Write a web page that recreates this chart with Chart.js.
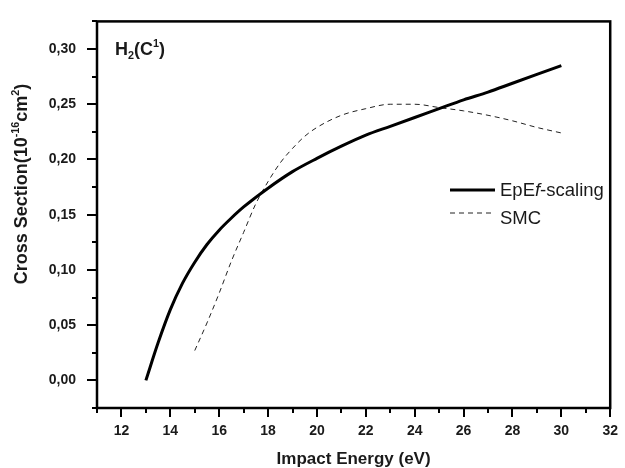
<!DOCTYPE html>
<html>
<head>
<meta charset="utf-8">
<script src="https://cdn.jsdelivr.net/npm/chart.js@4"></script>
<style>
  body { margin: 0; background: #fff; }
</style>
</head>
<body>
<canvas id="myChart" width="625" height="468"></canvas>
<script>
const energyEpEf = [13, 13.5, 14, 14.5, 15, 15.5, 16, 16.5, 17, 18, 19, 20, 21, 22, 23, 24, 25, 26, 27, 28, 29, 30];
const sigmaEpEf = [0, 0.034, 0.064, 0.088, 0.107, 0.123, 0.136, 0.147, 0.157, 0.174, 0.189, 0.201, 0.212, 0.222, 0.230, 0.238, 0.246, 0.254, 0.261, 0.269, 0.277, 0.285];
const energySMC = [15, 15.5, 16, 16.5, 17, 17.5, 18, 18.5, 19, 19.5, 20, 21, 22, 23, 24, 25, 26, 27, 28, 29, 30];
const sigmaSMC = [0.027, 0.052, 0.079, 0.108, 0.134, 0.160, 0.180, 0.197, 0.210, 0.221, 0.229, 0.240, 0.246, 0.250, 0.250, 0.247, 0.244, 0.240, 0.235, 0.229, 0.224];
const xTicks = [12, 14, 16, 18, 20, 22, 24, 26, 28, 30, 32];
const yTicks = [0, 0.05, 0.10, 0.15, 0.20, 0.25, 0.30];

const ink = '#1a1a1a';
const FONT = '"Liberation Sans", Arial, sans-serif';

function pts(xs, ys) {
  return xs.map((x, i) => ({ x: x, y: ys[i] }));
}

// draws text pieces in a row, sup/sub pieces smaller and shifted
function drawRich(ctx, pieces, x, y, size) {
  let cx = x;
  pieces.forEach(p => {
    let s = size, dy = 0;
    if (p.sup) { s = size * 0.6; dy = -size * 0.42; }
    if (p.sub) { s = size * 0.6; dy = size * 0.2; }
    ctx.font = (p.style || 'bold') + ' ' + s + 'px ' + FONT;
    ctx.fillText(p.t, cx, y + dy);
    cx += ctx.measureText(p.t).width;
  });
  return cx - x;
}
function richWidth(ctx, pieces, size) {
  let w = 0;
  pieces.forEach(p => {
    const s = (p.sup || p.sub) ? size * 0.6 : size;
    ctx.font = (p.style || 'bold') + ' ' + s + 'px ' + FONT;
    w += ctx.measureText(p.t).width;
  });
  return w;
}

const decor = {
  id: 'decor',
  afterDraw(chart) {
    const ctx = chart.ctx;
    const a = chart.chartArea;
    const xs = chart.scales.x, ys = chart.scales.y;
    ctx.save();
    ctx.strokeStyle = '#000';
    ctx.fillStyle = ink;

    // frame
    ctx.lineWidth = 2.5;
    ctx.strokeRect(a.left, a.top, a.right - a.left, a.bottom - a.top);

    // tick marks
    ctx.lineWidth = 2;
    ctx.beginPath();
    for (let v = xs.min; v <= xs.max + 0.001; v += 1) {
      const px = Math.round(xs.getPixelForValue(v));
      const len = xTicks.includes(v) ? 9 : 5;
      ctx.moveTo(px, a.bottom);
      ctx.lineTo(px, a.bottom + len);
    }
    for (let v = ys.min; v <= ys.max + 0.0001; v += 0.025) {
      const py = Math.round(ys.getPixelForValue(v));
      const major = yTicks.some(t => Math.abs(t - v) < 0.001);
      ctx.moveTo(a.left, py);
      ctx.lineTo(a.left - (major ? 10 : 5), py);
    }
    ctx.stroke();

    // x title
    ctx.textAlign = 'center';
    ctx.textBaseline = 'alphabetic';
    ctx.font = 'bold 17px ' + FONT;
    ctx.fillText('Impact Energy (eV)', (a.left + a.right) / 2, 464);

    // y title
    ctx.textAlign = 'left';
    const yPieces = [
      { t: 'Cross Section(10' }, { t: '-16', sup: true },
      { t: 'cm' }, { t: '2', sup: true }, { t: ')' }
    ];
    const w = richWidth(ctx, yPieces, 18);
    ctx.translate(27, 184);
    ctx.rotate(-Math.PI / 2);
    drawRich(ctx, yPieces, -w / 2, 0, 18);
    ctx.setTransform(1, 0, 0, 1, 0, 0);

    // H2(C1) label
    drawRich(ctx, [
      { t: 'H' }, { t: '2', sub: true }, { t: '(C' }, { t: '1', sup: true }, { t: ')' }
    ], 115, 55, 18);

    // legend
    const ds = chart.data.datasets;
    ctx.strokeStyle = ds[0].borderColor;
    ctx.lineWidth = ds[0].borderWidth;
    ctx.beginPath(); ctx.moveTo(450, 190); ctx.lineTo(495, 190); ctx.stroke();
    ctx.strokeStyle = ds[1].borderColor;
    ctx.lineWidth = ds[1].borderWidth;
    ctx.setLineDash(ds[1].borderDash);
    ctx.beginPath(); ctx.moveTo(450, 213); ctx.lineTo(495, 213); ctx.stroke();
    ctx.setLineDash([]);
    drawRich(ctx, [
      { t: 'EpE', style: 'normal' }, { t: 'f', style: 'italic' }, { t: '-scaling', style: 'normal' }
    ], 500, 196, 18.5);
    drawRich(ctx, [{ t: 'SMC', style: 'normal' }], 500, 224, 18.5);
    ctx.restore();
  }
};

const ctx = document.getElementById('myChart').getContext('2d');

const chart = new Chart(ctx, {
  type: 'line',
  data: {
    datasets: [{
      label: 'EpEf-scaling',
      data: pts(energyEpEf, sigmaEpEf),
      borderColor: '#000',
      borderWidth: 3,
      pointRadius: 0,
      cubicInterpolationMode: 'monotone',
      fill: false
    }, {
      label: 'SMC',
      data: pts(energySMC, sigmaSMC),
      borderColor: '#222',
      borderWidth: 1,
      borderDash: [5, 4],
      pointRadius: 0,
      cubicInterpolationMode: 'monotone',
      fill: false
    }]
  },
  options: {
    responsive: false,
    animation: false,
    devicePixelRatio: 1,
    layout: { padding: { left: 0, top: 12, right: 9, bottom: 0 } },
    plugins: { legend: { display: false }, tooltip: { enabled: false } },
    scales: {
      x: {
        type: 'linear',
        min: 11,
        max: 32,
        afterBuildTicks: axis => { axis.ticks = xTicks.map(v => ({ value: v })); },
        afterFit: axis => { axis.height = 60; },
        grid: { display: false },
        border: { display: false },
        ticks: {
          autoSkip: false,
          maxRotation: 0,
          padding: 7,
          color: ink,
          font: { family: FONT, size: 14, weight: 'bold' }
        }
      },
      y: {
        type: 'linear',
        min: -0.025,
        max: 0.325,
        afterBuildTicks: axis => { axis.ticks = yTicks.map(v => ({ value: v })); },
        afterFit: axis => { axis.width = 97; },
        grid: { display: false },
        border: { display: false },
        ticks: {
          padding: 13,
          color: ink,
          font: { family: FONT, size: 14, weight: 'bold' },
          callback: v => v.toFixed(2).replace('.', ',')
        }
      }
    }
  },
  plugins: [decor]
});
</script>
</body>
</html>
